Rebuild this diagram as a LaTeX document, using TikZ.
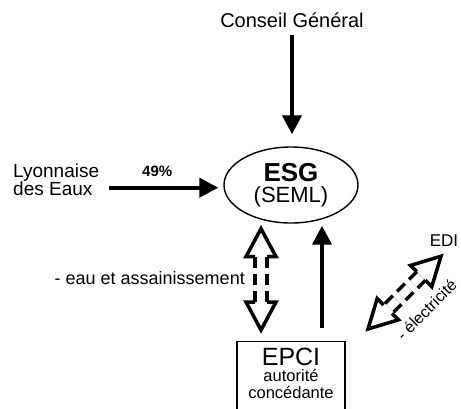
\documentclass[tikz,border=0pt]{standalone}
\usepackage{fontspec}
\setmainfont{Liberation Sans}
\usetikzlibrary{arrows.meta,shapes.geometric,calc}

\tikzset{
  thickarrow/.style={line width=4pt, -{Triangle[length=19pt, width=19pt]}},
  hollowshaft/.style={double, double distance=8.5pt, line width=3.5pt, dash pattern=on 11pt off 6pt},
  pics/hollowhead/.style={code={
    \draw[line width=3.5pt] (-6,28) -- (-15,28) -- (0,0) -- (15,28) -- (6,28);
  }},
}

\begin{document}
\begin{tikzpicture}[x=1pt, y=-1pt, inner sep=0pt]
\useasboundingbox (0,0) rectangle (461,408);

% Conseil General on top
\node[font=\fontsize{20}{24}\selectfont, anchor=base] (cg) at (292,27) {Conseil Général};

% ESG (SEML) in the middle
\node[draw, ellipse, line width=1.4pt, minimum width=134pt, minimum height=76pt,
      align=center, font=\fontsize{22}{21}\selectfont] (esg) at (291,185)
    {{\fontsize{26}{21}\selectfont\bfseries ESG}\\(SEML)};

% Lyonnaise des Eaux --- left
\node[font=\fontsize{19}{18}\selectfont, align=left, anchor=north west] (lyon) at (13,163.5)
    {Lyonnaise\\des Eaux};

% EPCI box --- bottom, runs off the page
\node[draw, line width=1.3pt, anchor=north, minimum width=108pt, inner ysep=6pt,
      align=center, font=\fontsize{16.5}{16.5}\selectfont] (epci) at (291,341)
    {{\fontsize{25}{25}\selectfont EPCI}\\autorité\\concédante\rule[-14pt]{0pt}{14pt}};

% EDI --- right
\node[font=\fontsize{17}{20}\selectfont, anchor=base] (edi) at (444,246.7) {EDI};

% ================================================================
% plain arrows
% ================================================================
\draw[thickarrow, shorten <=8pt, shorten >=12pt] (cg.south) -- (cg.south |- esg.north);

\coordinate (lyonout) at ([xshift=10pt, yshift=-8pt]lyon.east);
\draw[thickarrow, shorten >=5pt] (lyonout) -- (lyonout -| esg.west)
    node[pos=0.42, above=9pt, font=\fontsize{15}{18}\selectfont\bfseries] (pct) {49\%};

\coordinate (epciout) at ([xshift=31pt]epci.north);
\draw[thickarrow, shorten <=13pt, shorten >=2pt] (epciout) -- (epciout |- esg.south);

% ================================================================
% hollow double arrows
% ================================================================
\coordinate (wtop) at ($(esg.south)+(-30,5)$);
\coordinate (wbot) at ($(epci.north)+(-30,-11)$);
\draw[hollowshaft] ($(wtop)!28pt!(wbot)$) -- ($(wbot)!28pt!(wtop)$);
\pic at (wtop) {hollowhead};
\pic[rotate=180] at (wbot) {hollowhead};
\node[font=\fontsize{18}{20}\selectfont, anchor=base east] (eau) at (245,284)
    {- eau et assainissement};

\coordinate (etop) at ($(edi.south)+(-3,9.3)$);
\coordinate (ebot) at (368,329);
\draw[hollowshaft] ($(etop)!28pt!(ebot)$) -- ($(ebot)!28pt!(etop)$);
\pic[rotate=-45] at (etop) {hollowhead};
\pic[rotate=135] at (ebot) {hollowhead};
\node[rotate=45, font=\fontsize{16}{18}\selectfont] (elec)
    at ($(ebot)!0.5!(etop)+(22,17)$) {- électricité};

\end{tikzpicture}
\end{document}
